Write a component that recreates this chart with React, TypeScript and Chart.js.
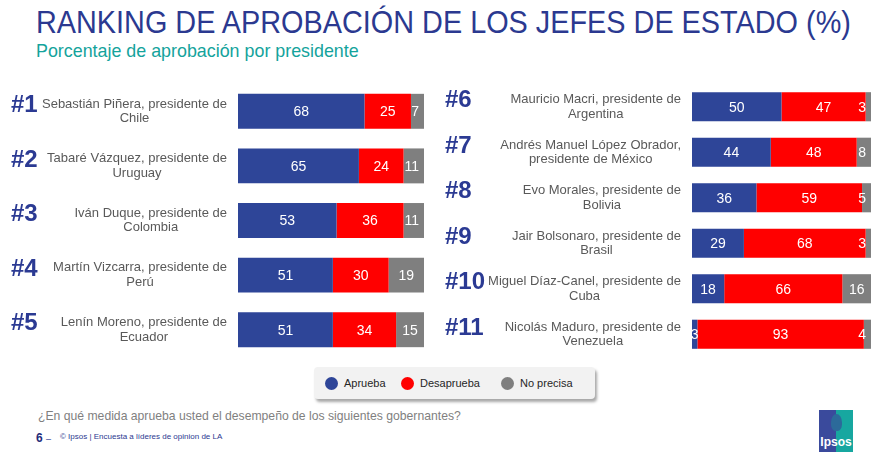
import React, { useEffect, useRef } from "react";
import { Chart, registerables } from "chart.js";

Chart.register(...registerables);

const TITLE = "RANKING DE APROBACIÓN DE LOS JEFES DE ESTADO (%)";
const SUBTITLE = "Porcentaje de aprobación por presidente";
const QUESTION = "¿En qué medida aprueba usted el desempeño de los siguientes gobernantes?";
const FOOTER = "© Ipsos | Encuesta a líderes de opinion de LA";
const PAGE = "6";

const SERIES = ["Aprueba", "Desaprueba", "No precisa"];
const COLORS = ["#2E4598", "#FF0000", "#7F7F7F"];

const leftRanks = ["#1", "#2", "#3", "#4", "#5"];
const leftNames = [
  ["Sebastián Piñera, presidente de", "Chile"],
  ["Tabaré Vázquez, presidente de", "Uruguay"],
  ["Iván Duque, presidente de", "Colombia"],
  ["Martín Vizcarra, presidente de", "Perú"],
  ["Lenín Moreno, presidente de", "Ecuador"],
];
const leftAprueba = [68, 65, 53, 51, 51];
const leftDesaprueba = [25, 24, 36, 30, 34];
const leftNoPrecisa = [7, 11, 11, 19, 15];

const rightRanks = ["#6", "#7", "#8", "#9", "#10", "#11"];
const rightNames = [
  ["Mauricio Macri, presidente de", "Argentina"],
  ["Andrés Manuel López Obrador,", "presidente de México"],
  ["Evo Morales, presidente de", "Bolivia"],
  ["Jair Bolsonaro, presidente de", "Brasil"],
  ["Miguel Díaz-Canel, presidente de", "Cuba"],
  ["Nicolás Maduro, presidente de", "Venezuela"],
];
const rightAprueba = [50, 44, 36, 29, 18, 3];
const rightDesaprueba = [47, 48, 59, 68, 66, 93];
const rightNoPrecisa = [3, 8, 5, 3, 16, 4];

const FONT = "'Liberation Sans', Arial, Helvetica, sans-serif";
const LEGEND_X = [17, 93, 193];

const overlayPlugin = {
  id: "overlay",
  afterDatasetsDraw(chart: any, _args: any, opts: any) {
    const ctx = chart.ctx;
    const yScale = chart.scales.y;
    const area = chart.chartArea;
    ctx.save();
    // values inside segments
    ctx.save();
    ctx.beginPath();
    ctx.rect(area.left, area.top, area.right - area.left, area.bottom - area.top);
    ctx.clip();
    ctx.font = `14px ${FONT}`;
    ctx.fillStyle = "#ffffff";
    ctx.textAlign = "center";
    ctx.textBaseline = "middle";
    chart.data.datasets.forEach((ds: any, di: number) => {
      const meta = chart.getDatasetMeta(di);
      meta.data.forEach((el: any, i: number) => {
        const txt = String(ds.data[i]);
        const w = ctx.measureText(txt).width;
        let cx = (el.x + el.base) / 2;
        cx = Math.min(cx, area.right - w / 2 - 5);
        ctx.fillText(txt, cx, el.y + 1);
      });
    });
    ctx.restore();
    // names
    ctx.font = `13px ${FONT}`;
    ctx.fillStyle = "#595959";
    ctx.textAlign = "center";
    ctx.textBaseline = "middle";
    (chart.data.labels as string[][]).forEach((lines, i) => {
      const cy = yScale.getPixelForValue(i);
      const maxW = Math.max(...lines.map((l) => ctx.measureText(l).width));
      const cx = area.left - opts.gap - maxW / 2;
      const lh = 14.5;
      lines.forEach((l, k) => {
        ctx.fillText(l, cx, cy + (k - (lines.length - 1) / 2) * lh);
      });
    });
    // ranks
    ctx.font = `bold 24px ${FONT}`;
    ctx.fillStyle = "#2B3A93";
    ctx.textAlign = "left";
    (opts.ranks as string[]).forEach((r, i) => {
      ctx.fillText(r, opts.rankX, yScale.getPixelForValue(i) - 6);
    });
    ctx.restore();
  },
};

function Panel(props: {
  names: string[][];
  ranks: string[];
  aprueba: number[];
  desaprueba: number[];
  noPrecisa: number[];
  padLeft: number;
  padRight: number;
  rankX: number;
}) {
  const ref = useRef<HTMLCanvasElement>(null);
  useEffect(() => {
    if (!ref.current) return;
    const values = [props.aprueba, props.desaprueba, props.noPrecisa];
    const chart = new Chart(ref.current, {
      type: "bar",
      data: {
        labels: props.names as any,
        datasets: SERIES.map((s, i) => ({
          label: s,
          data: values[i],
          backgroundColor: COLORS[i],
          borderWidth: 0,
          barPercentage: 0.64,
          categoryPercentage: 1,
        })),
      },
      options: {
        indexAxis: "y",
        animation: false,
        responsive: true,
        maintainAspectRatio: false,
        layout: { padding: { left: props.padLeft, right: props.padRight, top: 0, bottom: 0 } },
        scales: {
          x: { stacked: true, min: 0, max: 100, display: false },
          y: { stacked: true, display: false },
        },
        plugins: {
          legend: { display: false },
          tooltip: { enabled: false },
          overlay: { gap: 11, ranks: props.ranks, rankX: props.rankX },
        } as any,
      },
      plugins: [overlayPlugin],
    });
    return () => chart.destroy();
  }, []);
  return <canvas ref={ref} />;
}

export default function App() {
  useEffect(() => {
    document.body.style.margin = "0";
  }, []);
  return (
    <div
      style={{
        position: "relative",
        width: 874,
        height: 458,
        background: "#ffffff",
        fontFamily: FONT,
        overflow: "hidden",
      }}
    >
      <div
        style={{
          position: "absolute",
          left: 36,
          top: 5,
          fontSize: 31,
          color: "#2B3990",
          whiteSpace: "nowrap",
          transform: "scaleX(0.93)",
          transformOrigin: "left top",
        }}
      >
        {TITLE}
      </div>
      <div
        style={{
          position: "absolute",
          left: 36,
          top: 40,
          fontSize: 19,
          color: "#14A39C",
          whiteSpace: "nowrap",
          transform: "scaleX(0.94)",
          transformOrigin: "left top",
        }}
      >
        {SUBTITLE}
      </div>
      <div style={{ position: "absolute", left: 0, top: 84, width: 440, height: 273 }}>
        <Panel
          names={leftNames}
          ranks={leftRanks}
          aprueba={leftAprueba}
          desaprueba={leftDesaprueba}
          noPrecisa={leftNoPrecisa}
          padLeft={238}
          padRight={16}
          rankX={11}
        />
      </div>
      <div style={{ position: "absolute", left: 440, top: 84, width: 434, height: 273 }}>
        <Panel
          names={rightNames}
          ranks={rightRanks}
          aprueba={rightAprueba}
          desaprueba={rightDesaprueba}
          noPrecisa={rightNoPrecisa}
          padLeft={252}
          padRight={3}
          rankX={5}
        />
      </div>
      <div
        style={{
          position: "absolute",
          left: 314,
          top: 367,
          width: 281,
          height: 32,
          background: "#F2F2F2",
          borderRadius: 4,
          boxShadow: "2px 3px 3px rgba(0,0,0,0.35)",
        }}
      >
        {SERIES.map((s, i) => (
          <React.Fragment key={s}>
            <div
              style={{
                position: "absolute",
                left: LEGEND_X[i] - 6.5,
                top: 9.5,
                width: 13,
                height: 13,
                borderRadius: "50%",
                background: COLORS[i],
              }}
            />
            <div
              style={{
                position: "absolute",
                left: LEGEND_X[i] + 13,
                top: 9,
                fontSize: 11,
                lineHeight: "14px",
                color: "#262626",
                whiteSpace: "nowrap",
              }}
            >
              {s}
            </div>
          </React.Fragment>
        ))}
      </div>
      <div
        style={{
          position: "absolute",
          left: 38,
          top: 409,
          fontSize: 12.2,
          color: "#7F7F7F",
          whiteSpace: "nowrap",
        }}
      >
        {QUESTION}
      </div>
      <div
        style={{
          position: "absolute",
          left: 36,
          top: 431,
          fontSize: 12,
          fontWeight: "bold",
          color: "#1F2D7A",
          whiteSpace: "nowrap",
        }}
      >
        {PAGE} <span style={{ fontWeight: "normal", fontSize: 9, color: "#2B3990" }}>–</span>
      </div>
      <div
        style={{
          position: "absolute",
          left: 60,
          top: 432,
          fontSize: 8,
          color: "#2B3990",
          whiteSpace: "nowrap",
        }}
      >
        {FOOTER}
      </div>
      <div
        style={{
          position: "absolute",
          left: 819,
          top: 410,
          width: 34,
          height: 42,
          background: "linear-gradient(90deg, #3A4A9C 0%, #3A4A9C 50%, #17A7A0 50%, #17A7A0 100%)",
        }}
      >
        <div
          style={{
            position: "absolute",
            left: 12,
            top: 4,
            width: 11,
            height: 17,
            borderRadius: "50% 50% 40% 40%",
            background: "#2C6A9A",
          }}
        />
        <div
          style={{
            position: "absolute",
            left: 0,
            right: 0,
            bottom: 3,
            textAlign: "center",
            fontSize: 12,
            fontWeight: "bold",
            color: "#ffffff",
          }}
        >
          Ipsos
        </div>
      </div>
    </div>
  );
}
